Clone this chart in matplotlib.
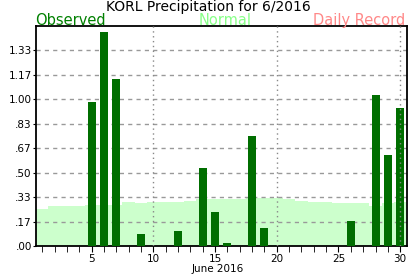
import numpy as np
import matplotlib
matplotlib.use("Agg")
import matplotlib.pyplot as plt

# June 2016 daily precipitation (inches)
days = list(range(1, 31))
observed = [0, 0, 0, 0, 0.98, 1.46, 1.14, 0, 0.08, 0,
            0, 0.10, 0, 0.53, 0.23, 0.02, 0, 0.75, 0.12, 0,
            0, 0, 0, 0, 0, 0.17, 0, 1.03, 0.62, 0.94]
normal = [0.25, 0.27, 0.27, 0.27, 0.28, 0.28, 0.28, 0.30, 0.29, 0.30,
          0.30, 0.30, 0.31, 0.32, 0.32, 0.32, 0.32, 0.33, 0.33, 0.33,
          0.32, 0.31, 0.30, 0.30, 0.29, 0.29, 0.29, 0.27, 0.29, 0.30]
ytick_vals = [0, 1/6, 2/6, 3/6, 4/6, 5/6, 1.0, 7/6, 8/6]

fig = plt.figure(figsize=(4.17, 2.76), dpi=100)
ax = fig.add_axes([36/417, 1-246/276, 371/417, 220/276])

# normals as a light green step area
edges = np.arange(0.5, len(days) + 1.5, 1)
ax.stairs(normal, edges, fill=True, color='#ccffcc', zorder=1)

# horizontal dashed grid under the bars
for v in ytick_vals[1:]:
    ax.axhline(v, color='#999999', linestyle=(0, (3, 3)), linewidth=1, zorder=2)

ax.bar(days, observed, width=0.65, color='#006e00', zorder=3)

# vertical dotted lines every 10 days
for d in [10, 20, 30]:
    ax.axvline(d, color='#888888', linestyle=(0, (1, 2.5)), linewidth=1, zorder=4)

ax.set_xlim(0.5, 30.55)
ax.set_ylim(0, 1.5)
ax.set_yticks(ytick_vals)
ax.set_yticklabels([('%.2f' % v).lstrip('0') if v < 1 else '%.2f' % v for v in ytick_vals])
ax.tick_params(axis='y', length=2, labelsize=7.5, pad=1)
ax.set_xticks([5, 10, 15, 20, 25, 30])
ax.set_xticks(days, minor=True)
ax.tick_params(axis='x', which='both', length=4, direction='out', labelsize=7.5, pad=2)

for s in ax.spines.values():
    s.set_linewidth(1.3)

fig.text(218/417, 1-269/276, 'June 2016', ha='center', va='center', fontsize=7.5)
fig.text(0.5, 1-11.5/276, 'KORL Precipitation for 6/2016', ha='center', va='baseline', fontsize=10)
fig.text(35/417, 1-25/276, 'Observed', color='#008000', fontsize=10.5, ha='left', va='baseline')
fig.text(225/417, 1-25/276, 'Normal', color='#88ff88', fontsize=10.5, ha='center', va='baseline')
fig.text(405/417, 1-25/276, 'Daily Record', color='#ff8888', fontsize=10.5, ha='right', va='baseline')

fig.savefig('out.png', dpi=100)
